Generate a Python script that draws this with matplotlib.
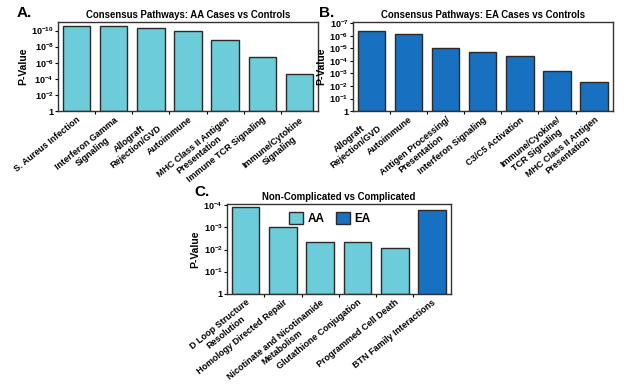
import matplotlib
matplotlib.use("Agg")
import matplotlib.pyplot as plt
from matplotlib.patches import Patch
import numpy as np

plt.rcParams['font.family'] = ['Liberation Sans', 'DejaVu Sans']
plt.rcParams['mathtext.fontset'] = 'custom'
plt.rcParams['mathtext.rm'] = 'Liberation Sans:bold'
plt.rcParams['mathtext.bf'] = 'Liberation Sans:bold'
plt.rcParams['mathtext.it'] = 'Liberation Sans:bold'

# ---- data (values are -log10(P)) ----
a_labels = ["S. Aureus Infection", "Interferon Gamma\nSignaling", "Allograft\nRejection/GVD",
            "Autoimmune", "MHC Class II Antigen\nPresentation", "Immune TCR Signaling",
            "Immune/Cytokine\nSignaling"]
a_values = [10.62, 10.5, 10.37, 10.0, 8.88, 6.68, 4.65]
a_ticks = [0, 2, 4, 6, 8, 10]

b_labels = ["Allograft\nRejection/GVD", "Autoimmune", "Antigen Processing/\nPresentation",
            "Interferon Signaling", "C3/C5 Activation", "Immune/Cyokine/\nTCR Signaling",
            "MHC Class II Antigen\nPresentation"]
b_values = [6.38, 6.14, 5.03, 4.68, 4.36, 3.19, 2.29]
b_ticks = [0, 1, 2, 3, 4, 5, 6, 7]

c_labels = ["D Loop Structure\nResolution", "Homology Directed Repair",
            "Nicotinate and Nicotinamide\nMetabolism", "Glutathione Conjugation",
            "Programmed Cell Death", "BTN Family Interactions"]
c_values = [3.91, 3.02, 2.35, 2.32, 2.09, 3.79]
c_groups = ["AA", "AA", "AA", "AA", "AA", "EA"]
c_ticks = [0, 1, 2, 3, 4]

LIGHT = "#6DCCD9"
DARK = "#1771C0"
EDGE = "#2a2a2a"

def fmt(k):
    return "1" if k == 0 else r"$10^{-%d}$" % k

fig = plt.figure(figsize=(6.31, 3.87), dpi=100)

def panel(rect, labels, values, colors, ticks, ylim, title, letter, letter_xy):
    ax = fig.add_axes(rect)
    x = np.arange(len(labels))
    ax.bar(x, values, width=0.74, color=colors, edgecolor=EDGE, linewidth=1.0, zorder=2)
    ax.set_xlim(-0.5, len(labels) - 0.5)
    ax.set_ylim(0, ylim)
    ax.set_yticks(ticks)
    ax.set_yticklabels([fmt(k) for k in ticks], fontsize=6.5, fontweight='bold')
    ax.tick_params(axis='y', length=2, width=0.8, pad=1)
    ax.set_xticks(x)
    ax.set_xticklabels(labels, rotation=39, ha='right', va='top', rotation_mode='anchor',
                       fontsize=6.5, fontweight='bold', multialignment='center')
    ax.tick_params(axis='x', length=0, pad=3)
    ax.set_xticks(np.arange(len(labels) - 1) + 0.5, minor=True)
    ax.tick_params(axis='x', which='minor', length=2, width=0.8, direction='out')
    for s in ax.spines.values():
        s.set_color("#333333")
        s.set_linewidth(1.0)
    ax.set_ylabel("P-Value", fontsize=7.5, fontweight='bold', labelpad=2)
    ax.set_title(title, fontsize=6.9, fontweight='bold', pad=3)
    fig.text(letter_xy[0], letter_xy[1], letter, fontsize=11, fontweight='bold',
             ha='left', va='center')
    return ax

panel([0.0919, 0.713, 0.412, 0.230], a_labels, a_values, LIGHT, a_ticks, 11.05,
      "Consensus Pathways: AA Cases vs Controls", "A.", (0.027, 0.966))
panel([0.559, 0.713, 0.412, 0.230], b_labels, b_values, DARK, b_ticks, 7.1,
      "Consensus Pathways: EA Cases vs Controls", "B.", (0.505, 0.966))
cols = [LIGHT if g == "AA" else DARK for g in c_groups]
axc = panel([0.3597, 0.241, 0.3545, 0.232], c_labels, c_values, cols, c_ticks, 4.06,
            "Non-Complicated vs Complicated", "C.", (0.308, 0.503))
handles = [Patch(facecolor=LIGHT, edgecolor=EDGE, label="AA"),
           Patch(facecolor=DARK, edgecolor=EDGE, label="EA")]
leg = axc.legend(handles=handles, loc='upper center', bbox_to_anchor=(0.46, 0.99), ncol=2,
                 frameon=False, prop={'weight': 'bold', 'size': 8.5}, handlelength=1.2,
                 handleheight=1.2, handletextpad=0.4, columnspacing=0.9, borderaxespad=0.2)

fig.savefig("out.png", dpi=100)
